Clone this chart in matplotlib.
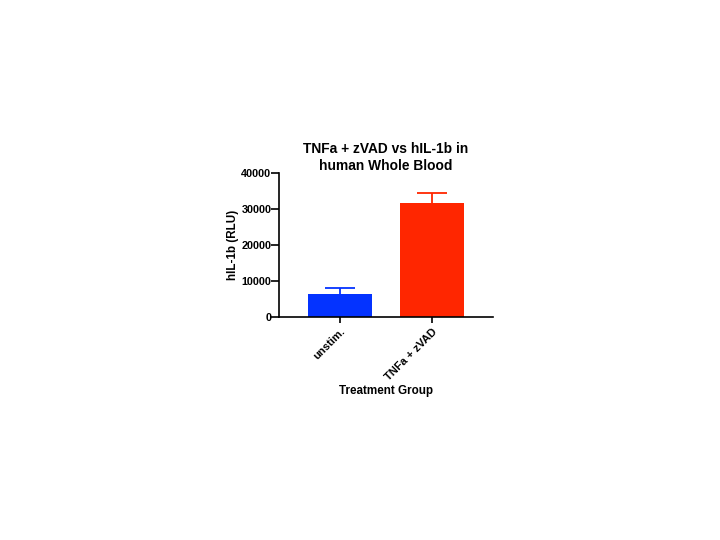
import matplotlib
matplotlib.use("Agg")
import matplotlib.pyplot as plt

# Data
groups = ["unstim.", "TNFa + zVAD"]
means = [6550, 31700]
errors = [1650, 2850]
colors = ["#0433FF", "#FF2600"]
yticks = [0, 10000, 20000, 30000, 40000]

plt.rcParams['font.family'] = ['Liberation Sans', 'DejaVu Sans']
plt.rcParams['font.weight'] = 'bold'

fig = plt.figure(figsize=(7.2, 5.4), dpi=100)
ax = fig.add_axes([0.3875, 0.4125, 0.2972, 0.2671])

x = range(len(groups))
for i in x:
    ax.bar(i, means[i], width=0.69, color=colors[i], zorder=2)
    eb = ax.errorbar(i, means[i], yerr=[[0], [errors[i]]], color=colors[i],
                     capsize=11, elinewidth=1.3, capthick=1.3, zorder=1)
    eb[1][0].set_visible(False)  # only the upper cap

ax.set_xlim(-0.66, 1.66)
ax.set_ylim(0, 40000)
ax.set_yticks(yticks)
ax.set_xticks(list(x))
ax.set_xticklabels(groups, rotation=45, ha='right', rotation_mode='anchor', fontsize=8, fontweight='bold')
ax.tick_params(axis='y', labelsize=7.8, width=1.2, length=5.5, pad=0)
ax.tick_params(axis='x', width=1.2, length=4.5, pad=2)
for lab in ax.get_yticklabels():
    lab.set_fontweight('bold')

ax.spines['top'].set_visible(False)
ax.spines['right'].set_visible(False)
ax.spines['left'].set_linewidth(1.2)
ax.spines['bottom'].set_linewidth(1.2)

ax.set_ylabel('hIL-1b (RLU)', fontsize=8.4, fontweight='bold', labelpad=1.5)
ax.set_xlabel('Treatment Group', fontsize=8.4, fontweight='bold', labelpad=2)
ax.set_title('TNFa + zVAD vs hIL-1b in\nhuman Whole Blood', fontsize=9.9, fontweight='bold',
             pad=0, linespacing=1.28)

fig.savefig('out.png', dpi=100)
